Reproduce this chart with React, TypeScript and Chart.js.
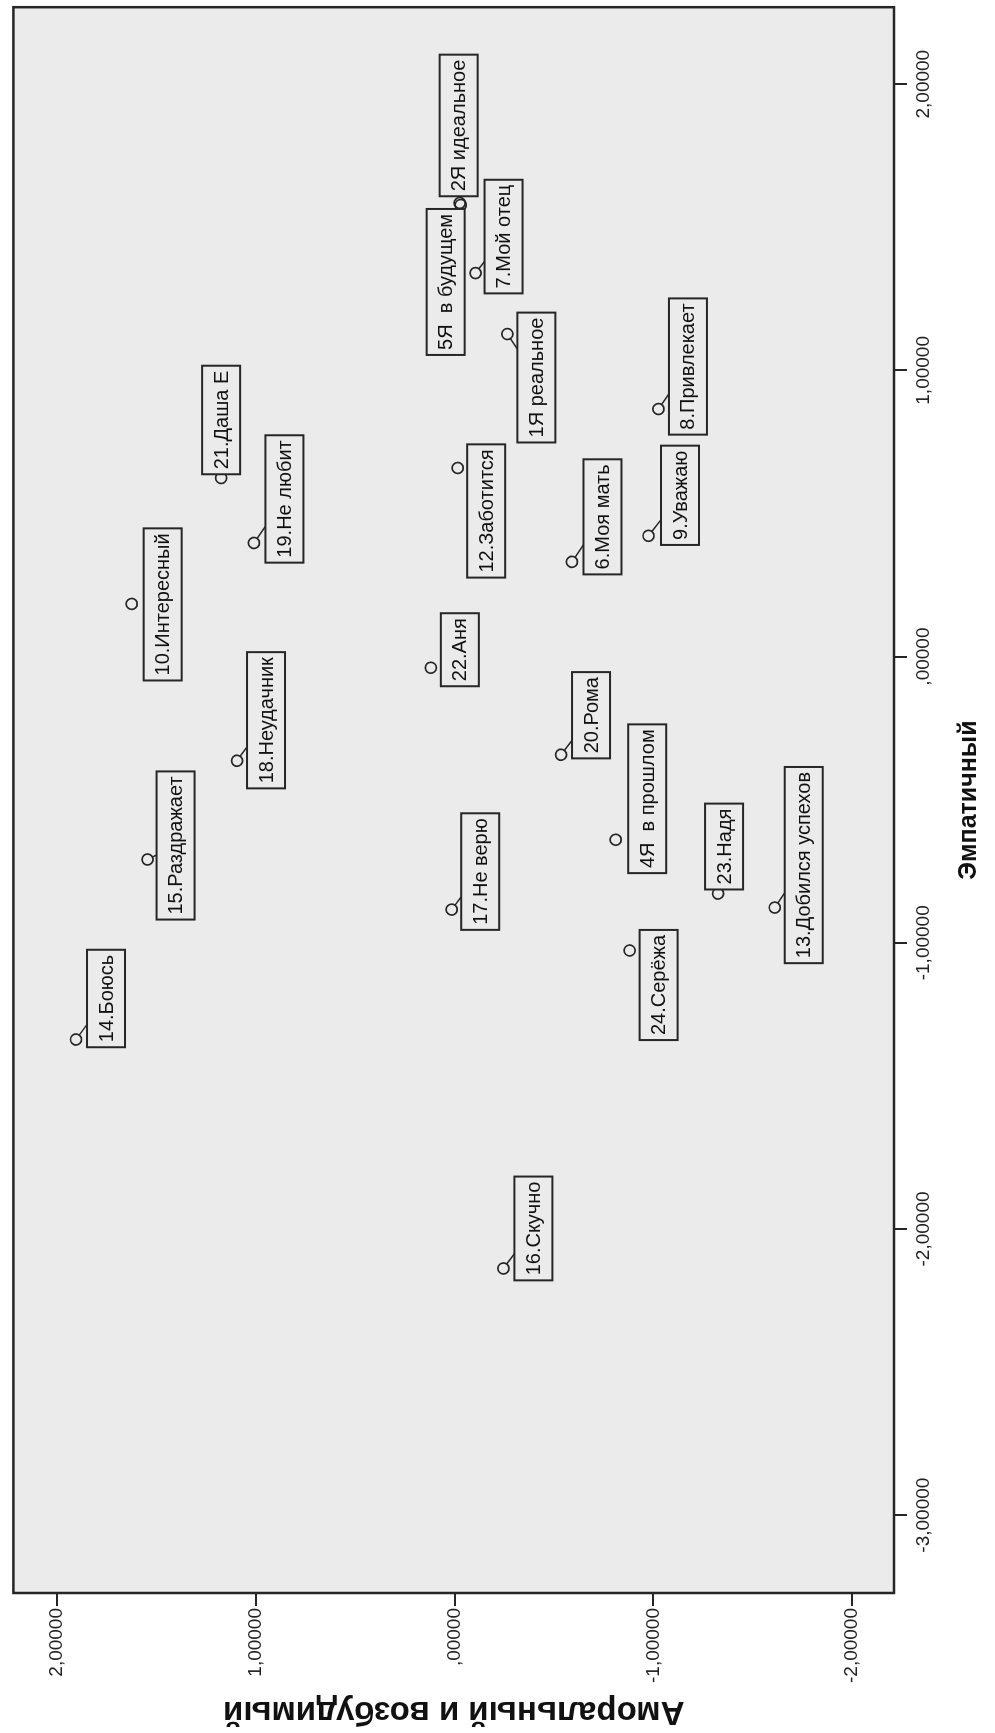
import React, { useEffect, useRef } from 'react';
import { Chart, registerables } from 'chart.js';

Chart.register(...registerables);

// ---- data ----
const pointLabels = [
  '1Я реальное', '2Я идеальное', '4Я  в прошлом', '5Я  в будущем', '6.Моя мать',
  '7.Мой отец', '8.Привлекает', '9.Уважаю', '10.Интересный', '12.Заботится',
  '13.Добился успехов', '14.Боюсь', '15.Раздражает', '16.Скучно', '17.Не верю',
  '18.Неудачник', '19.Не любит', '20.Рома', '21.Даша Е', '22.Аня', '23.Надя', '24.Серёжа',
];
// "Эмпатичный"
const empathic = [
  1.127, 1.585, -0.64, 1.578, 0.331,
  1.34, 0.865, 0.422, 0.184, 0.659,
  -0.877, -1.338, -0.709, -2.138, -0.884,
  -0.364, 0.397, -0.343, 0.624, -0.039, -0.828, -1.027,
];
// "Аморальный и возбудимый"
const amoral = [
  -0.265, -0.025, -0.81, -0.03, -0.59,
  -0.105, -1.025, -0.975, 1.625, -0.015,
  -1.61, 1.905, 1.545, -0.245, 0.015,
  1.095, 1.01, -0.535, 1.175, 0.12, -1.325, -0.88,
];
const empathicTicks = [-3, -2, -1, 0, 1, 2];
const amoralTicks = [-2, -1, 0, 1, 2];
const empathicMin = -3.272;
const empathicMax = 2.269;
const amoralMin = -2.21;
const amoralMax = 2.22;
const xTitle = 'Эмпатичный';
const yTitle = 'Аморальный и возбудимый';

// ---- label layout (offset of label box centre from its point, px) ----
const labelShift: [number, number][] = [
  [-43.5, 29], [77.5, -1], [41, 31.5], [-77, -15], [45, 30.5],
  [36.5, 28], [42.5, 29.5], [40.5, 31.5], [-0.5, 31], [-43, 28.5],
  [42.5, 29], [41, 30], [14, 28], [40, 30], [38, 28.5],
  [40.5, 29], [44, 30.5], [39.5, 30], [58, 0], [18, 29], [47, 6], [-34.5, 29],
];
const leaderLine = [
  true, false, false, false, true,
  true, true, true, false, false,
  true, true, true, true, true,
  true, true, true, false, false, false, false,
];

const W = 1733;
const H = 995;
const FAMILY = '"Liberation Sans", Arial, Helvetica, sans-serif';
const PLOT_BG = '#ebebeb';
const INK = '#262626';

function fmt(v: number): string {
  let s = Math.abs(v).toFixed(5).replace('.', ',');
  if (s.startsWith('0,')) s = s.slice(1);
  return (v < 0 ? '-' : '') + s;
}

const framePlugin = {
  id: 'spssFrame',
  beforeDraw(chart: any) {
    const { ctx, chartArea } = chart;
    ctx.save();
    ctx.fillStyle = '#ffffff';
    ctx.fillRect(0, 0, chart.width, chart.height);
    ctx.fillStyle = PLOT_BG;
    ctx.fillRect(chartArea.left, chartArea.top, chartArea.right - chartArea.left, chartArea.bottom - chartArea.top);
    ctx.restore();
  },
  beforeDatasetsDraw(chart: any) {
    const { ctx, chartArea } = chart;
    ctx.save();
    ctx.strokeStyle = INK;
    ctx.lineWidth = 2.5;
    ctx.strokeRect(chartArea.left, chartArea.top, chartArea.right - chartArea.left, chartArea.bottom - chartArea.top);
    ctx.restore();
  },
};

const labelPlugin = {
  id: 'pointLabelBoxes',
  afterDatasetsDraw(chart: any) {
    const ctx = chart.ctx;
    const meta = chart.getDatasetMeta(0);
    const r = 5.5;
    ctx.save();
    ctx.font = `20px ${FAMILY}`;
    ctx.textAlign = 'center';
    ctx.textBaseline = 'middle';
    meta.data.forEach((el: any, i: number) => {
      const text = pointLabels[i];
      const px = el.x;
      const py = el.y;
      const [dx, dy] = labelShift[i];
      const cx = px + dx;
      const cy = py + dy;
      const w = ctx.measureText(text).width + 10;
      const h = 38;
      if (leaderLine[i]) {
        const se = Math.min(dx !== 0 ? w / 2 / Math.abs(dx) : Infinity, dy !== 0 ? h / 2 / Math.abs(dy) : Infinity);
        if (se < 1) {
          const ex = cx - se * dx;
          const ey = cy - se * dy;
          const len = Math.hypot(ex - px, ey - py);
          if (len > r) {
            const sx = px + ((ex - px) / len) * r;
            const sy = py + ((ey - py) / len) * r;
            ctx.beginPath();
            ctx.moveTo(sx, sy);
            ctx.lineTo(ex, ey);
            ctx.lineWidth = 1.5;
            ctx.strokeStyle = INK;
            ctx.stroke();
          }
        }
      }
      ctx.fillStyle = PLOT_BG;
      ctx.fillRect(cx - w / 2, cy - h / 2, w, h);
      ctx.lineWidth = 2;
      ctx.strokeStyle = INK;
      ctx.strokeRect(cx - w / 2, cy - h / 2, w, h);
      ctx.fillStyle = '#111';
      ctx.fillText(text, cx, cy + 1);
    });
    ctx.restore();
  },
};

export default function App() {
  const ref = useRef<HTMLCanvasElement>(null);

  useEffect(() => {
    const canvas = ref.current;
    if (!canvas) return;
    const points = empathic.map((e, i) => ({ x: e, y: amoral[i] }));
    const gridOpts = {
      display: true,
      drawOnChartArea: false,
      drawTicks: true,
      tickLength: 13,
      tickWidth: 2,
      tickColor: INK,
      color: INK,
      lineWidth: 2,
    };
    const chart = new Chart(canvas, {
      type: 'scatter',
      data: {
        datasets: [
          {
            label: 'points',
            data: points,
            pointStyle: 'circle',
            pointRadius: 5.5,
            pointBorderWidth: 1.7,
            borderColor: INK,
            backgroundColor: 'rgba(0,0,0,0)',
          },
        ],
      },
      options: {
        responsive: false,
        maintainAspectRatio: false,
        devicePixelRatio: 1,
        animation: false,
        events: [],
        layout: { padding: { left: 0, right: 6, top: 8, bottom: 0 } },
        plugins: {
          legend: { display: false },
          tooltip: { enabled: false },
          title: { display: false },
        },
        scales: {
          x: {
            type: 'linear',
            position: 'bottom',
            min: empathicMin,
            max: empathicMax,
            afterBuildTicks: (s: any) => {
              s.ticks = empathicTicks.map((v) => ({ value: v }));
            },
            afterFit: (s: any) => {
              s.height = 101;
            },
            ticks: {
              callback: (v: any) => fmt(Number(v)),
              font: { size: 19, family: FAMILY },
              color: '#222',
              padding: 5,
              maxRotation: 0,
              minRotation: 0,
              autoSkip: false,
            },
            grid: gridOpts,
            border: { display: false },
            title: {
              display: true,
              text: xTitle,
              color: '#111',
              font: { size: 25, weight: 'bold', family: FAMILY },
              padding: { top: 0, bottom: 11 },
            },
          },
          y: {
            type: 'linear',
            position: 'left',
            min: amoralMin,
            max: amoralMax,
            afterBuildTicks: (s: any) => {
              s.ticks = amoralTicks.map((v) => ({ value: v }));
            },
            afterFit: (s: any) => {
              s.width = 140;
            },
            ticks: {
              callback: (v: any) => fmt(Number(v)),
              font: { size: 19, family: FAMILY },
              color: '#222',
              padding: 2,
              autoSkip: false,
            },
            grid: gridOpts,
            border: { display: false },
            title: {
              display: true,
              text: yTitle,
              color: '#111',
              font: { size: 33, weight: 'bold', family: FAMILY },
              padding: { top: 2, bottom: 0 },
            },
          },
        },
      } as any,
      plugins: [framePlugin, labelPlugin],
    });
    return () => chart.destroy();
  }, []);

  return (
    <div
      style={{
        position: 'absolute',
        left: 0,
        top: 0,
        width: 995,
        height: 1733,
        overflow: 'hidden',
        background: '#ffffff',
      }}
    >
      <div
        style={{
          position: 'absolute',
          left: 0,
          top: 0,
          width: W,
          height: H,
          transformOrigin: '0 0',
          transform: `translate(0px, ${W}px) rotate(-90deg)`,
        }}
      >
        <canvas ref={ref} width={W} height={H} style={{ display: 'block', width: W, height: H }} />
      </div>
    </div>
  );
}
